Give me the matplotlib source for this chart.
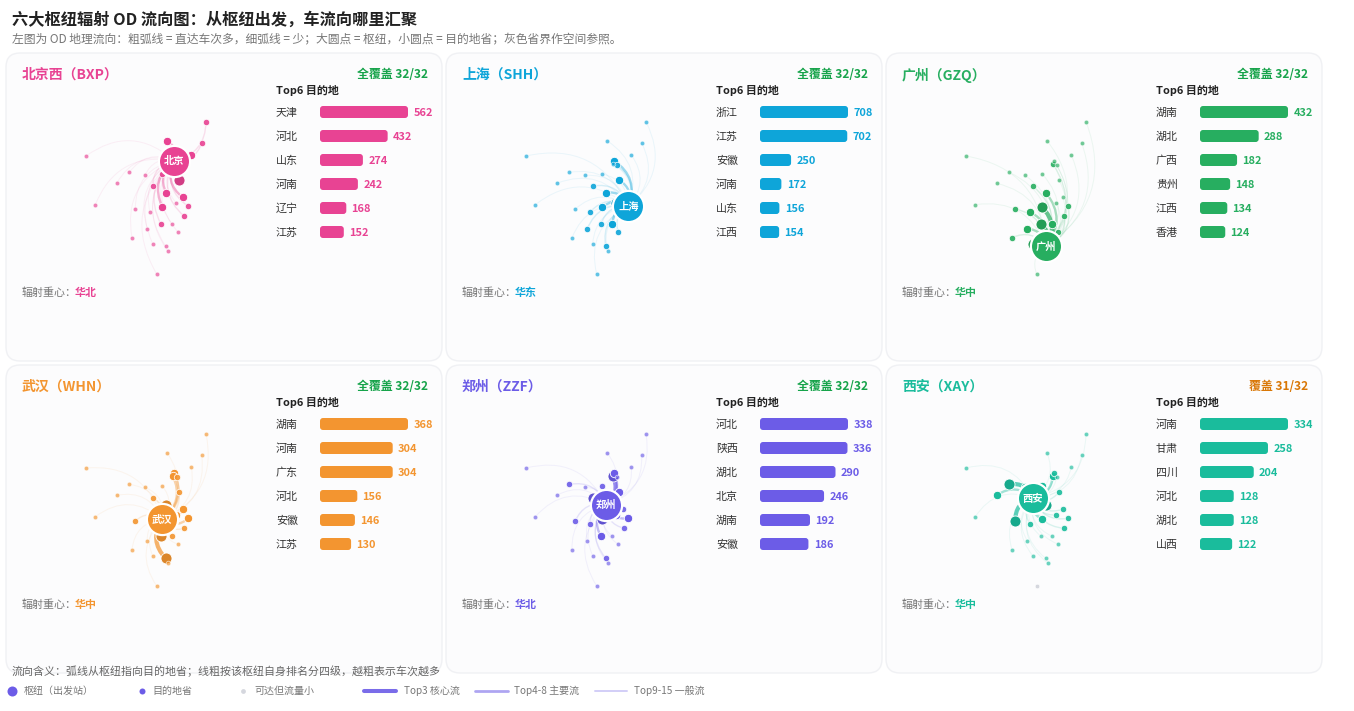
import numpy as np
import matplotlib
matplotlib.use('Agg')
import matplotlib.pyplot as plt
from matplotlib.path import Path
from matplotlib.patches import PathPatch, FancyBboxPatch

plt.rcParams['font.family'] = ['Noto Sans CJK SC', 'DejaVu Sans']

W, H = 1354, 711

# province positions on the little map
province_names = ['黑龙江', '吉林', '辽宁', '内蒙古', '北京', '河北', '天津', '山西', '山东', '河南', '江苏',
                  '安徽', '上海', '浙江', '湖北', '江西', '福建', '湖南', '广东', '香港', '广西', '海南',
                  '贵州', '云南', '重庆', '四川', '陕西', '宁夏', '甘肃', '青海', '西藏', '新疆']
province_x = [438, 425, 394, 321, 342, 338, 350, 307, 357, 318, 368,
              349, 385, 373, 307, 337, 355, 303, 317, 323, 278, 290,
              262, 216, 270, 226, 278, 255, 208, 170, 106, 78]
province_y = [65, 129, 165, 122, 182, 191, 196, 222, 240, 278, 292,
              309, 319, 349, 322, 373, 397, 373, 439, 453, 431, 522,
              386, 413, 336, 327, 258, 226, 217, 250, 314, 168]

hub_names = ['北京西（BXP）', '上海（SHH）', '广州（GZQ）', '武汉（WHN）', '郑州（ZZF）', '西安（XAY）']
hub_labels = ['北京', '上海', '广州', '武汉', '郑州', '西安']
hub_provinces = ['北京', '上海', '广东', '湖北', '河南', '陕西']
hub_colors = ['#E84393', '#0EA5D9', '#27AE60', '#F39530', '#6C5CE7', '#1ABC9C']
hub_regions = ['华北', '华东', '华中', '华中', '华北', '华中']
hub_cover = ['全覆盖 32/32', '全覆盖 32/32', '全覆盖 32/32', '全覆盖 32/32', '全覆盖 32/32', '覆盖 31/32']
cover_colors = ['#16A34A', '#16A34A', '#16A34A', '#16A34A', '#16A34A', '#D97706']

top6_names = [['天津', '河北', '山东', '河南', '辽宁', '江苏'],
              ['浙江', '江苏', '安徽', '河南', '山东', '江西'],
              ['湖南', '湖北', '广西', '贵州', '江西', '香港'],
              ['湖南', '河南', '广东', '河北', '安徽', '江苏'],
              ['河北', '陕西', '湖北', '北京', '湖南', '安徽'],
              ['河南', '甘肃', '四川', '河北', '湖北', '山西']]
top6_values = [[562, 432, 274, 242, 168, 152],
               [708, 702, 250, 172, 156, 154],
               [432, 288, 182, 148, 134, 124],
               [368, 304, 304, 156, 146, 130],
               [338, 336, 290, 246, 192, 186],
               [334, 258, 204, 128, 128, 122]]

# rank 7-8 and rank 9-15 destinations, everything else is a thin flow
rank_7_8 = [['内蒙古', '湖北'], ['湖北', '北京'], ['河南', '重庆'],
            ['上海', '北京'], ['山东', '上海'], ['青海', '宁夏']]
rank_9_15 = [['吉林', '黑龙江', '上海', '浙江', '湖南', '陕西', '山西'],
             ['天津', '湖南', '重庆', '贵州', '福建', '广东', '陕西'],
             ['陕西', '四川', '云南', '上海', '浙江', '福建', '河北'],
             ['天津', '山东', '浙江', '陕西', '四川', '江西', '重庆'],
             ['甘肃', '四川', '重庆', '浙江', '广东', '山西', '江苏'],
             ['北京', '山东', '江苏', '安徽', '上海', '浙江', '重庆']]
no_flow = [[], [], [], [], [], ['海南']]

legend_dots = ['枢纽（出发站）', '目的地省', '可达但流量小']
legend_lines = ['Top3 核心流', 'Top4-8 主要流', 'Top9-15 一般流']

# tier: radius px, dot alpha, line width pt, line alpha
tiers = {1: (5.5, 1.0, 3.0, 0.7), 2: (4.2, 1.0, 1.7, 0.4), 3: (3.2, 0.9, 1.0, 0.16), 4: (2.3, 0.65, 0.7, 0.08)}


def darken(color, f=0.9):
    r, g, b = matplotlib.colors.to_rgb(color)
    return (r * f, g * f, b * f)


def rounded_bars(ax, vals, ys, color, height=12, radius=3, px_per_unit=1):
    bars = ax.barh(ys, vals, height=height, color='none')
    for b in bars:
        k = 1 / px_per_unit
        ax.add_patch(FancyBboxPatch((b.get_x(), b.get_y()), b.get_width(), b.get_height(),
                                    boxstyle='round,pad=0,rounding_size=%f' % (radius * k),
                                    mutation_aspect=px_per_unit, fc=color, ec='none'))


fig = plt.figure(figsize=(W / 100, H / 100), dpi=100, facecolor='white')
bg = fig.add_axes([0, 0, 1, 1])
bg.set_xlim(0, W)
bg.set_ylim(H, 0)
bg.axis('off')


def box(i):
    col, row = i % 3, i // 3
    return 440 * col, 312 * row


for i in range(6):
    ox, oy = box(i)
    color = hub_colors[i]
    bg.add_patch(FancyBboxPatch((6 + ox, 53 + oy), 436, 308, boxstyle='round,pad=0,rounding_size=14',
                                fc='#FCFCFD', ec='#F0F1F4', lw=1))
    bg.text(22 + ox, 75 + oy, hub_names[i], color=color, fontsize=10, fontweight='bold', va='center')
    bg.text(428 + ox, 75 + oy, hub_cover[i], color=cover_colors[i], fontsize=8.6, fontweight='bold',
            va='center', ha='right')
    bg.text(276 + ox, 90 + oy, 'Top6 目的地', color='#222222', fontsize=7.9, fontweight='bold', va='center')
    bg.text(22 + ox, 293 + oy, '辐射重心：', color='#777777', fontsize=7.9, va='center')
    bg.text(75 + ox, 293 + oy, hub_regions[i], color=color, fontsize=7.9, fontweight='bold', va='center')

    # bars
    ys = [112, 136, 160, 184, 208, 232]
    bar_ax = fig.add_axes([(320 + ox) / W, 1 - (240 + oy) / H, 88 / W, 136 / H])
    bar_ax.set_xlim(0, max(top6_values[i]))
    bar_ax.set_ylim(240, 104)
    bar_ax.axis('off')
    rounded_bars(bar_ax, top6_values[i], ys, color, px_per_unit=88 / max(top6_values[i]))
    for name, val, y in zip(top6_names[i], top6_values[i], ys):
        bg.text(276 + ox, y + 1 + oy, name, color='#333333', fontsize=7.9, va='center')
        bar_ax.annotate(str(val), (val, y + 1), xytext=(3.8, 0), textcoords='offset points', color=color,
                        fontsize=7.9, fontweight='bold', va='center', annotation_clip=False)

    # map
    m = fig.add_axes([(60 + ox) / W, 1 - (285 + oy) / H, 170 / W, 185 / H])
    m.set_xlim(0, 510)
    m.set_ylim(555, 0)
    m.axis('off')
    m.patch.set_alpha(0)
    hub = hub_provinces[i]
    hx, hy = province_x[province_names.index(hub)], province_y[province_names.index(hub)]

    def tier_of(p):
        if p in top6_names[i][:3]:
            return 1
        if p in top6_names[i][3:] or p in rank_7_8[i]:
            return 2
        if p in rank_9_15[i]:
            return 3
        return 4

    order = sorted([p for p in province_names if p != hub], key=tier_of, reverse=True)
    for p in order:
        if p in no_flow[i]:
            continue
        k = province_names.index(p)
        px, py = province_x[k], province_y[k]
        dx, dy = px - hx, py - hy
        t = tiers[tier_of(p)]
        ctrl = (hx + dx * 0.5 - dy * 0.4, hy + dy * 0.5 + dx * 0.4)
        m.add_patch(PathPatch(Path([(hx, hy), ctrl, (px, py)], [Path.MOVETO, Path.CURVE3, Path.CURVE3]),
                              fc='none', ec=color, lw=t[2], alpha=t[3], capstyle='butt', clip_on=False))
    for p in sorted(order, key=tier_of):
        k = province_names.index(p)
        t = tiers[tier_of(p)]
        d = 2 * t[0] * 0.72
        if p in no_flow[i]:
            m.scatter(province_x[k], province_y[k], s=(2 * 2.3 * 0.72) ** 2, color='#D5D7DE',
                      edgecolors='white', linewidths=0.4, zorder=3, clip_on=False)
            continue
        c = darken(color) if tier_of(p) == 1 else color
        m.scatter(province_x[k], province_y[k], s=d ** 2, color=c, alpha=t[1],
                  edgecolors='white', linewidths=0.6, zorder=3, clip_on=False)
    m.scatter(hx, hy, s=(2 * 15.6 * 0.72) ** 2, color=color, edgecolors='white', linewidths=1.6,
              zorder=4, clip_on=False)
    m.text(hx, hy + 2, hub_labels[i], color='white', fontsize=7.4, fontweight='bold', ha='center', va='center', zorder=5)

bg.text(12, 19, '六大枢纽辐射 OD 流向图：从枢纽出发，车流向哪里汇聚', color='#222222', fontsize=11.7,
        fontweight='bold', va='center')
bg.text(12, 39, '左图为 OD 地理流向：粗弧线 = 直达车次多，细弧线 = 少；大圆点 = 枢纽，小圆点 = 目的地省；灰色省界作空间参照。',
        color='#777777', fontsize=8.5, va='center')
bg.text(12, 671, '流向含义：弧线从枢纽指向目的地省；线粗按该枢纽自身排名分四级，越粗表示车次越多',
        color='#666666', fontsize=7.9, va='center')

# legend
purple = '#6C5CE7'
for x, r, c, tx, name in zip([12, 142, 243], [5, 3, 2.4], [purple, purple, '#D5D7DE'], [24, 152, 254], legend_dots):
    bg.scatter(x, 691, s=(2 * r * 0.72) ** 2, color=c, linewidths=0)
    bg.text(tx, 691, name, color='#777777', fontsize=7.2, va='center')
for x0, x1, lw, a, tx, name in zip([364, 475, 595], [396, 508, 627], [2.9, 2.0, 1.4], [0.9, 0.55, 0.3],
                                   [404, 514, 634], legend_lines):
    bg.plot([x0, x1], [691, 691], color=purple, lw=lw, alpha=a, solid_capstyle='round')
    bg.text(tx, 691, name, color='#777777', fontsize=7.2, va='center')

fig.savefig('out.png', dpi=100)
